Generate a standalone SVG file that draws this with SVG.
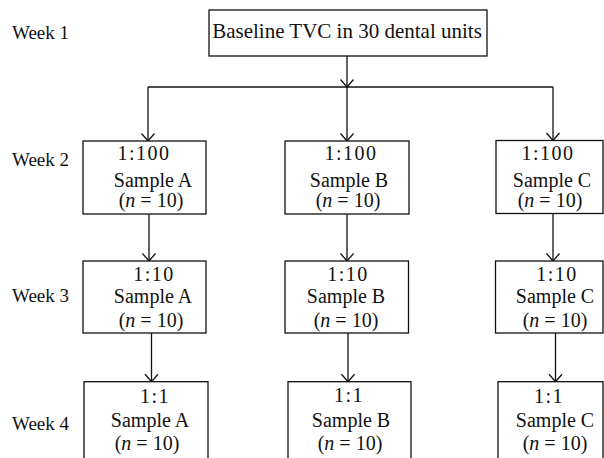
<svg xmlns="http://www.w3.org/2000/svg" width="604" height="458" viewBox="0 0 604 458" font-family="'Liberation Serif', 'DejaVu Serif', serif">
<style>
  text { font-family: "Liberation Serif", "DejaVu Serif", serif; fill: #111; }
  .wk { font-size: 19px; }
  .top { font-size: 21px; text-anchor: middle; }
  .bx { font-size: 20px; text-anchor: middle; }
  .ratio { letter-spacing: 1.5px; }
  .box { fill: #fff; stroke: #111; stroke-width: 1.3; }
  .ln { fill: none; stroke: #111; stroke-width: 1.3; }
</style>
<defs>
  <marker id="arr" markerUnits="userSpaceOnUse" markerWidth="10" markerHeight="15" viewBox="-1 -1 10 15" refX="7.5" refY="6.5" orient="auto">
    <path d="M0,0 L7.5,6.5 L0,13" fill="none" stroke="#111" stroke-width="1.3"/>
  </marker>
</defs>

<g id="week-labels">
  <text class="wk" x="12" y="39">Week 1</text>
  <text class="wk" x="12" y="166">Week 2</text>
  <text class="wk" x="12" y="302">Week 3</text>
  <text class="wk" x="12" y="430">Week 4</text>
</g>

<g id="connectors">
  <line class="ln" x1="347" y1="56" x2="347" y2="87" marker-end="url(#arr)"/>
  <line class="ln" x1="148" y1="87" x2="553" y2="87"/>
  <line class="ln" x1="148" y1="87" x2="148" y2="141" marker-end="url(#arr)"/>
  <line class="ln" x1="347" y1="87" x2="347" y2="141" marker-end="url(#arr)"/>
  <line class="ln" x1="553" y1="87" x2="553" y2="140.5" marker-end="url(#arr)"/>
  <line class="ln" x1="149" y1="214" x2="149" y2="261" marker-end="url(#arr)"/>
  <line class="ln" x1="347" y1="214" x2="347" y2="261" marker-end="url(#arr)"/>
  <line class="ln" x1="553" y1="213.5" x2="553" y2="261" marker-end="url(#arr)"/>
  <line class="ln" x1="151.5" y1="333" x2="151.5" y2="381.7" marker-end="url(#arr)"/>
  <line class="ln" x1="348" y1="333" x2="348" y2="381.7" marker-end="url(#arr)"/>
  <line class="ln" x1="555.5" y1="333" x2="555.5" y2="381.7" marker-end="url(#arr)"/>
</g>

<g id="baseline">
  <rect class="box" x="209" y="10" width="278" height="46"/>
  <text class="top" x="347" y="38">Baseline TVC in 30 dental units</text>
</g>

<g id="w2-a">
  <rect class="box" x="83" y="141" width="123" height="73"/>
  <text class="bx ratio" x="144" y="160">1:100</text>
  <text class="bx" x="153" y="187">Sample A</text>
  <text class="bx" x="151" y="207">(<tspan font-style="italic">n</tspan> = 10)</text>
</g>
<g id="w2-b">
  <rect class="box" x="285" y="141" width="124" height="73"/>
  <text class="bx ratio" x="351" y="160">1:100</text>
  <text class="bx" x="349" y="187">Sample B</text>
  <text class="bx" x="348" y="207">(<tspan font-style="italic">n</tspan> = 10)</text>
</g>
<g id="w2-c">
  <rect class="box" x="496" y="140.5" width="107" height="73"/>
  <text class="bx ratio" x="548" y="160">1:100</text>
  <text class="bx" x="552" y="187">Sample C</text>
  <text class="bx" x="550" y="207">(<tspan font-style="italic">n</tspan> = 10)</text>
</g>

<g id="w3-a">
  <rect class="box" x="83" y="261" width="123" height="72"/>
  <text class="bx ratio" x="154" y="281">1:10</text>
  <text class="bx" x="153" y="303">Sample A</text>
  <text class="bx" x="151" y="327">(<tspan font-style="italic">n</tspan> = 10)</text>
</g>
<g id="w3-b">
  <rect class="box" x="285" y="261" width="123.5" height="72"/>
  <text class="bx ratio" x="348" y="281">1:10</text>
  <text class="bx" x="346" y="303">Sample B</text>
  <text class="bx" x="346" y="327">(<tspan font-style="italic">n</tspan> = 10)</text>
</g>
<g id="w3-c">
  <rect class="box" x="495.5" y="261" width="107.5" height="72"/>
  <text class="bx ratio" x="557" y="281">1:10</text>
  <text class="bx" x="555" y="303">Sample C</text>
  <text class="bx" x="555" y="327">(<tspan font-style="italic">n</tspan> = 10)</text>
</g>

<g id="w4-a">
  <rect class="box" x="84" y="381.7" width="124" height="90"/>
  <text class="bx ratio" x="155" y="403">1:1</text>
  <text class="bx" x="150" y="427">Sample A</text>
  <text class="bx" x="147" y="450">(<tspan font-style="italic">n</tspan> = 10)</text>
</g>
<g id="w4-b">
  <rect class="box" x="288" y="381.7" width="123" height="90"/>
  <text class="bx ratio" x="349" y="402">1:1</text>
  <text class="bx" x="351" y="427">Sample B</text>
  <text class="bx" x="350" y="450">(<tspan font-style="italic">n</tspan> = 10)</text>
</g>
<g id="w4-c">
  <rect class="box" x="498" y="381.7" width="105" height="90"/>
  <text class="bx ratio" x="549" y="403">1:1</text>
  <text class="bx" x="555" y="427">Sample C</text>
  <text class="bx" x="555" y="450">(<tspan font-style="italic">n</tspan> = 10)</text>
</g>
</svg>
